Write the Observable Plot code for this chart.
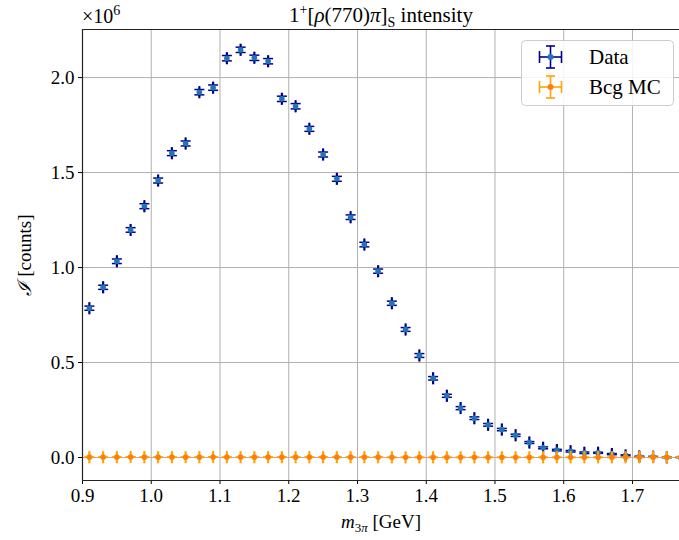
<!DOCTYPE html>
<html>
<head>
<meta charset="utf-8">
<script src="https://cdn.jsdelivr.net/npm/d3@7"></script>
<script src="https://cdn.jsdelivr.net/npm/@observablehq/plot@0.6"></script>
<style>
  html, body { margin: 0; padding: 0; background: #fff; }
  #chart { width: 679px; height: 540px; }
</style>
</head>
<body>
<div id="chart"></div>
<script>
// bin centres of m_3pi [GeV]
const massBins = [0.91,0.93,0.95,0.97,0.99,1.01,1.03,1.05,1.07,1.09,1.11,1.13,1.15,1.17,1.19,1.21,1.23,1.25,1.27,1.29,1.31,1.33,1.35,1.37,1.39,1.41,1.43,1.45,1.47,1.49,1.51,1.53,1.55,1.57,1.59,1.61,1.63,1.65,1.67,1.69,1.71,1.73,1.75,1.77];
// intensities in units of 1e6 counts
const dataIntensity = [0.786,0.896,1.033,1.198,1.323,1.458,1.602,1.653,1.923,1.947,2.102,2.146,2.104,2.086,1.888,1.849,1.730,1.595,1.467,1.265,1.121,0.981,0.812,0.674,0.537,0.417,0.325,0.260,0.207,0.172,0.147,0.117,0.079,0.051,0.039,0.033,0.025,0.025,0.018,0.011,0.005,0.004,0.001,0.0005];
const dataError = [0.011,0.011,0.012,0.012,0.013,0.013,0.013,0.013,0.014,0.014,0.014,0.014,0.014,0.014,0.014,0.014,0.013,0.013,0.013,0.012,0.012,0.011,0.011,0.010,0.010,0.009,0.008,0.008,0.007,0.007,0.006,0.006,0.005,0.005,0.004,0.004,0.004,0.003,0.003,0.003,0.002,0.002,0.002,0.001];
const bcgIntensity = [0.002,0.002,0.002,0.003,0.002,0.002,0.002,0.002,0.002,0.003,0.002,0.002,0.002,0.002,0.002,0.002,0.002,0.002,0.002,0.002,0.002,0.002,0.001,0.001,0.001,0.001,0.001,0.001,0.001,0.001,0.001,0.001,0.001,0.001,0.001,0.001,0.001,0.001,0.001,0.001,0.001,0.001,0.001,0.001];
const bcgError = [0.001,0.001,0.001,0.001,0.001,0.001,0.001,0.001,0.001,0.001,0.001,0.001,0.001,0.001,0.001,0.001,0.001,0.001,0.001,0.001,0.001,0.001,0.001,0.001,0.001,0.001,0.001,0.001,0.001,0.001,0.001,0.001,0.001,0.001,0.001,0.001,0.001,0.001,0.001,0.001,0.001,0.001,0.001,0.001];
const massHalfWidth = 0.0005;
const xTicks = [0.9,1.0,1.1,1.2,1.3,1.4,1.5,1.6,1.7];
const yTicks = [0.0,0.5,1.0,1.5,2.0];
const seriesNames = ["Data", "Bcg MC"];

const dataRows = massBins.map((m, i) => ({x: m, y: dataIntensity[i], e: dataError[i], w: massHalfWidth}));
const bcgRows = massBins.map((m, i) => ({x: m, y: bcgIntensity[i], e: bcgError[i], w: massHalfWidth}));

const hcap = {draw(ctx) { ctx.moveTo(-5, 0); ctx.lineTo(5, 0); }};
const vcap = {draw(ctx) { ctx.moveTo(0, -6); ctx.lineTo(0, 6); }};

function errMarks(rows, lineColor, dotColor) {
  return [
    Plot.link(rows, {x1: "x", x2: "x", y1: d => d.y - d.e, y2: d => d.y + d.e, stroke: lineColor, strokeWidth: 1.5}),
    Plot.link(rows, {x1: d => d.x - d.w, x2: d => d.x + d.w, y1: "y", y2: "y", stroke: lineColor, strokeWidth: 1.5}),
    Plot.dot(rows, {x: "x", y: d => d.y - d.e, symbol: hcap, stroke: lineColor, fill: "none", strokeWidth: 1.5}),
    Plot.dot(rows, {x: "x", y: d => d.y + d.e, symbol: hcap, stroke: lineColor, fill: "none", strokeWidth: 1.5}),
    Plot.dot(rows, {x: d => d.x - d.w, y: "y", symbol: vcap, stroke: lineColor, fill: "none", strokeWidth: 1.5}),
    Plot.dot(rows, {x: d => d.x + d.w, y: "y", symbol: vcap, stroke: lineColor, fill: "none", strokeWidth: 1.5}),
    Plot.dot(rows, {x: "x", y: "y", r: 2.8, fill: dotColor, stroke: "none"})
  ];
}

const xDomain = [0.9, 1.7684];
const yDomain = [-0.121, 2.253];

const plot = Plot.plot({
  width: 679,
  height: 540,
  marginLeft: 82,
  marginRight: 0,
  marginTop: 29,
  marginBottom: 60,
  style: {fontFamily: "'Liberation Serif', serif", fontSize: "19px", color: "#000", background: "#fff", overflow: "hidden"},
  x: {domain: xDomain, ticks: xTicks, tickFormat: d3.format(".1f"), label: null},
  y: {domain: yDomain, ticks: yTicks, tickFormat: d3.format(".1f"), label: null},
  marks: [
    Plot.gridX(xTicks, {stroke: "#b0b0b0", strokeOpacity: 1, strokeWidth: 1}),
    Plot.gridY(yTicks, {stroke: "#b0b0b0", strokeOpacity: 1, strokeWidth: 1}),
    Plot.axisX({ticks: xTicks, tickFormat: d3.format(".1f"), tickSize: 4, tickPadding: 4, fontSize: 19, label: null, stroke: "#000"}),
    Plot.axisY({ticks: yTicks, tickFormat: d3.format(".1f"), tickSize: 4, tickPadding: 4, fontSize: 19, label: null, stroke: "#000"}),
    ...errMarks(dataRows, "#00008b", "#1f77b4"),
    ...errMarks(bcgRows, "#ffa500", "#ff7f0e"),
    Plot.ruleX([xDomain[0]], {stroke: "#222", strokeWidth: 1.2}),
    Plot.ruleY([yDomain[0], yDomain[1]], {stroke: "#222", strokeWidth: 1.2})
  ]
});

document.getElementById("chart").appendChild(plot);

const svg = d3.select(plot);
const serif = "'Liberation Serif', 'DejaVu Serif', serif";

// title
const title = svg.append("text").attr("x", 381).attr("y", 22).attr("text-anchor", "middle")
  .attr("font-family", serif).attr("font-size", 21).attr("fill", "#000");
title.append("tspan").text("1");
title.append("tspan").attr("font-size", 14).attr("dy", -8).text("+");
title.append("tspan").attr("dy", 8).text("[");
title.append("tspan").attr("font-style", "italic").text("ρ");
title.append("tspan").text("(770)");
title.append("tspan").attr("font-style", "italic").text("π");
title.append("tspan").text("]");
title.append("tspan").attr("font-size", 14).attr("dy", 5).text("S");
title.append("tspan").attr("dy", -5).text(" intensity");

// multiplier
const mult = svg.append("text").attr("x", 82).attr("y", 23).attr("text-anchor", "start")
  .attr("font-family", serif).style("font-size", "20px").attr("fill", "#000");
mult.append("tspan").style("font-size", "20px").text("×10");
mult.append("tspan").style("font-size", "14px").attr("dy", -8).text("6");

// x label
const xl = svg.append("text").attr("x", 381).attr("y", 528).attr("text-anchor", "middle")
  .attr("font-family", serif).attr("font-size", 19).attr("fill", "#000");
xl.append("tspan").attr("font-style", "italic").text("m");
xl.append("tspan").attr("font-size", 13).attr("dy", 4).text("3");
xl.append("tspan").attr("font-size", 13).attr("font-style", "italic").text("π");
xl.append("tspan").attr("dy", -4).text(" [GeV]");

// y label
const yl = svg.append("text").attr("transform", "translate(31,255) rotate(-90)").attr("text-anchor", "middle")
  .attr("font-family", serif).attr("font-size", 19).attr("fill", "#000");
yl.append("tspan").attr("font-family", "'DejaVu Serif', serif").attr("font-style", "italic").text("ℐ");
yl.append("tspan").text(" [counts]");

// legend
const lg = svg.append("g");
lg.append("rect").attr("x", 521.5).attr("y", 40.5).attr("width", 152).attr("height", 65).attr("rx", 4)
  .attr("fill", "#fff").attr("fill-opacity", 0.85).attr("stroke", "#cccccc").attr("stroke-width", 1);
const legendColors = [["#00008b", "#1f77b4"], ["#ffa500", "#ff7f0e"]];
seriesNames.forEach((name, i) => {
  const cx = 550.5, cy = 57 + i * 30;
  const [lc, dc] = legendColors[i];
  const g = lg.append("g").attr("stroke", lc).attr("stroke-width", 1.6).attr("fill", "none");
  g.append("line").attr("x1", cx).attr("x2", cx).attr("y1", cy - 11).attr("y2", cy + 11);
  g.append("line").attr("x1", cx - 11).attr("x2", cx + 11).attr("y1", cy).attr("y2", cy);
  g.append("line").attr("x1", cx - 4.5).attr("x2", cx + 4.5).attr("y1", cy - 11).attr("y2", cy - 11);
  g.append("line").attr("x1", cx - 4.5).attr("x2", cx + 4.5).attr("y1", cy + 11).attr("y2", cy + 11);
  g.append("line").attr("x1", cx - 11).attr("x2", cx - 11).attr("y1", cy - 6).attr("y2", cy + 6);
  g.append("line").attr("x1", cx + 11).attr("x2", cx + 11).attr("y1", cy - 6).attr("y2", cy + 6);
  lg.append("circle").attr("cx", cx).attr("cy", cy).attr("r", 3).attr("fill", dc);
  lg.append("text").attr("x", 589).attr("y", cy + 7).attr("text-anchor", "start")
    .attr("font-family", serif).attr("font-size", 21).attr("fill", "#000").text(name);
});
</script>
</body>
</html>
